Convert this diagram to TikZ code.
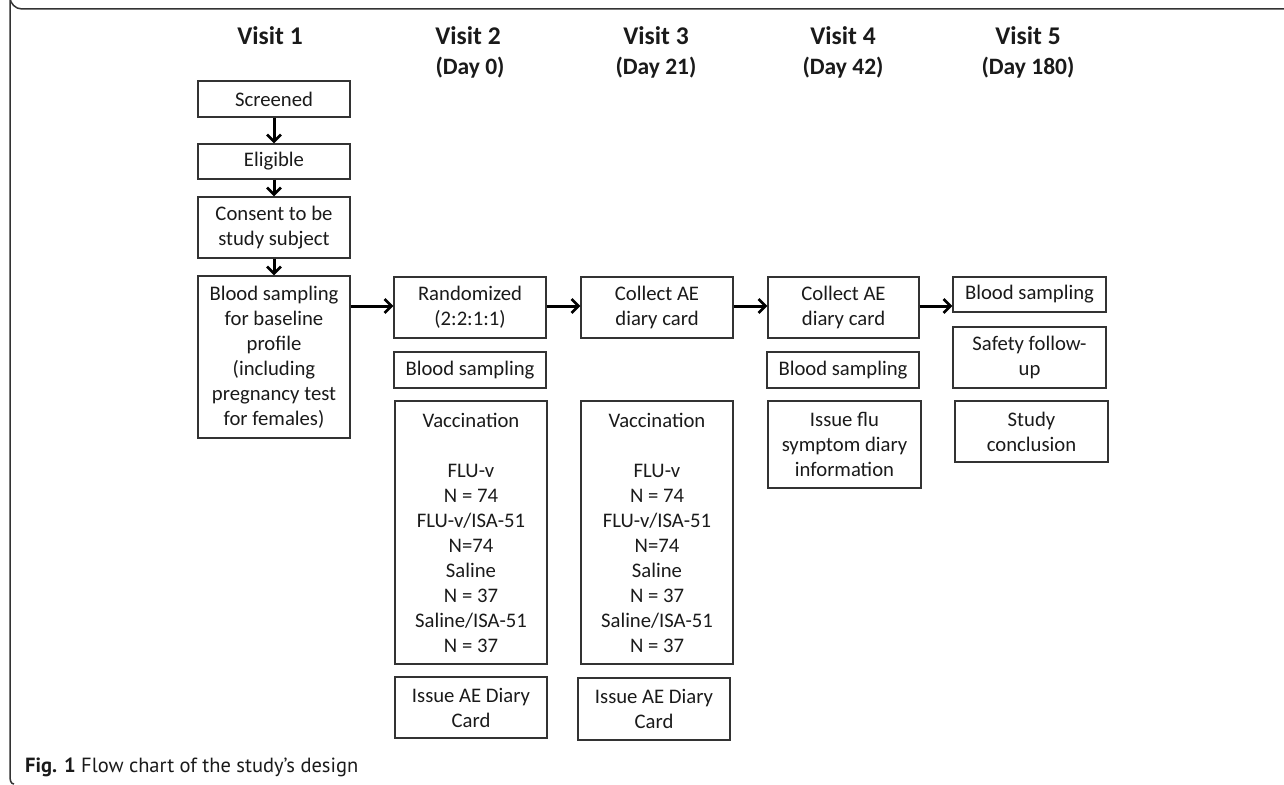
\documentclass[tikz,border=0pt]{standalone}
\usepackage{fontspec}
\setmainfont{Carlito}
\newfontfamily\capfont{PT Sans}
\usetikzlibrary{arrows.meta}
\definecolor{boxline}{HTML}{333333}
\definecolor{txt}{HTML}{1A1A1A}
\tikzset{
  box/.style={draw=boxline, line width=1.3pt, align=center, inner sep=0pt,
    font=\fontsize{20.7}{25}\selectfont, text=txt},
  head/.style={font=\bfseries\fontsize{25.5}{28}\selectfont, text=txt, inner sep=0pt},
  day/.style={font=\bfseries\fontsize{23.5}{26}\selectfont, text=txt, inner sep=0pt},
  flow/.style={line width=3pt, -{Straight Barb[length=7pt,width=14pt,line width=2.6pt]}, black},
}
\begin{document}
\begin{tikzpicture}[x=1pt,y=-1pt]
\useasboundingbox (0,0) rectangle (1284,784);
% frame
\draw[boxline, line width=1.5pt] (1284,9) -- (22,9) arc[start angle=90, end angle=180, radius=12] -- (10,776) to[out=-90,in=180] (14,784);
% headings
\node[head] (h1) at (270,36) {Visit 1};
\node[head] (h2) at (468,36) {Visit 2};
\node[day]  (d2) at (470,68) {(Day 0)};
\node[head] (h3) at (656,36) {Visit 3};
\node[day]  (d3) at (656,68) {(Day 21)};
\node[head] (h4) at (843,36) {Visit 4};
\node[day]  (d4) at (843,68) {(Day 42)};
\node[head] (h5) at (1028,36) {Visit 5};
\node[day]  (d5) at (1028,68) {(Day 180)};
% visit 1
\node[box, minimum width=152pt, minimum height=36pt] (scr) at (274,99) {Screened};
\node[box, minimum width=152pt, minimum height=35pt] (eli) at (274,161.5) {Eligible};
\node[box, minimum width=152pt, minimum height=61pt] (con) at (274,227.5) {Consent to be\\study subject};
\node[box, minimum width=152pt, minimum height=162pt] (base) at (274,357) {Blood sampling\\for baseline\\profile\\(including\\pregnancy test\\for females)};
% visit 2
\node[box, minimum width=152pt, minimum height=61pt] (rand) at (470,307.5) {Randomized\\(2:2:1:1)};
\node[box, minimum width=152pt, minimum height=36pt] (bs2) at (470,370) {Blood sampling};
\node[box, minimum width=152pt, minimum height=263pt] (vac2) at (471,532.5) {Vaccination\\[25pt]FLU-v\\N = 74\\FLU-v/ISA-51\\N=74\\Saline\\N = 37\\Saline/ISA-51\\N = 37};
\node[box, minimum width=152pt, minimum height=61pt] (iss2) at (471,707.5) {Issue AE Diary\\Card};
% visit 3
\node[box, minimum width=152pt, minimum height=61pt] (col3) at (657,307.5) {Collect AE\\diary card};
\node[box, minimum width=152pt, minimum height=263pt] (vac3) at (657,532.5) {Vaccination\\[25pt]FLU-v\\N = 74\\FLU-v/ISA-51\\N=74\\Saline\\N = 37\\Saline/ISA-51\\N = 37};
\node[box, minimum width=152pt, minimum height=62pt] (iss3) at (654,709) {Issue AE Diary\\Card};
% visit 4
\node[box, minimum width=151pt, minimum height=61pt] (col4) at (843.5,307.5) {Collect AE\\diary card};
\node[box, minimum width=152pt, minimum height=36pt] (bs4) at (843,370) {Blood sampling};
\node[box, minimum width=153pt, minimum height=87pt] (flu4) at (844.5,444.5) {Issue flu\\symptom diary\\information};
% visit 5
\node[box, minimum width=153pt, minimum height=35pt] (bs5) at (1029.5,294.5) {Blood sampling};
\node[box, minimum width=153pt, minimum height=61pt] (saf5) at (1029.5,357.5) {Safety follow-\\up};
\node[box, minimum width=153pt, minimum height=61pt] (stu5) at (1031.5,431.5) {Study\\conclusion};
% arrows
\draw[flow] (scr.south) -- (eli.north);
\draw[flow] (eli.south) -- (con.north);
\draw[flow] (con.south) -- (base.north);
\coordinate (a1) at (350,306);
\draw[flow] (base.east |- a1) -- (rand.west |- a1);
\draw[flow] (rand.east |- a1) -- (col3.west |- a1);
\draw[flow] (col3.east |- a1) -- (col4.west |- a1);
\draw[flow] (col4.east |- a1) -- (bs5.west |- a1);
% caption
\node[anchor=west, inner sep=0pt, font=\capfont\fontsize{20.5}{24}\selectfont, text=txt] (cap) at (25,767) {\textbf{Fig. 1} Flow chart of the study’s design};
\end{tikzpicture}
\end{document}
